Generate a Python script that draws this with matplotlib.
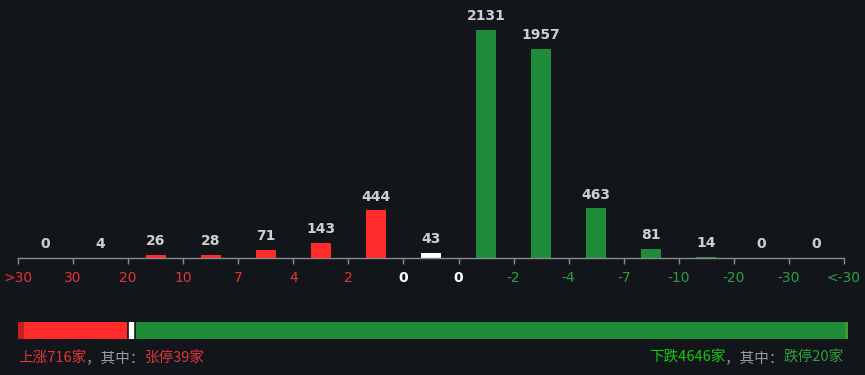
import matplotlib
matplotlib.use("Agg")
import matplotlib.pyplot as plt

plt.rcParams['font.family'] = ['Noto Sans CJK SC', 'DejaVu Sans']

# ---------------- data ----------------
tick_labels = [">30", "30", "20", "10", "7", "4", "2", "0", "0", "-2", "-4", "-7", "-10", "-20", "-30", "<-30"]
values = [0, 4, 26, 28, 71, 143, 444, 43, 2131, 1957, 463, 81, 14, 0, 0]
kinds = ["up"] * 7 + ["flat"] + ["down"] * 7
up_total = 716
flat_total = 43
down_total = 4646
limit_up = 39
limit_down = 20

BG = "#12161b"
RED = "#ff2a2a"
GREEN = "#1e8c38"
WHITE = "#ffffff"
RED_TXT = "#e03535"
GREEN_TXT = "#2f9e3f"
GRAY = "#9a9a9a"

W, H = 865, 375
fig = plt.figure(figsize=(W / 100, H / 100), dpi=100, facecolor=BG)

def frac(x0, y0, x1, y1):
    return [x0 / W, 1 - y1 / H, (x1 - x0) / W, (y1 - y0) / H]

# ---------------- bar chart ----------------
ax = fig.add_axes(frac(18, 0, 844, 258))
ax.set_facecolor(BG)
color_map = {"up": RED, "flat": WHITE, "down": GREEN}
xs = [i + 0.5 for i in range(len(values))]
ax.bar(xs, values, width=0.36, color=[color_map[k] for k in kinds], zorder=2)
ax.set_xlim(0, len(values))
ax.set_ylim(0, 2131 * 258 / 228)
for x, v in zip(xs, values):
    ax.annotate(str(v), (x, v), xytext=(0, 5), textcoords="offset points",
                ha="center", va="bottom", color="#cfcfcf", fontsize=10,
                fontweight="bold", family="DejaVu Sans")
for s in ["top", "left", "right"]:
    ax.spines[s].set_visible(False)
ax.spines["bottom"].set_color("#8a8a8a")
ax.spines["bottom"].set_linewidth(1)
ax.set_yticks([])
ax.set_xticks(range(len(tick_labels)))
ax.set_xticklabels(tick_labels, fontsize=10, family="DejaVu Sans")
ax.tick_params(axis="x", colors="#8a8a8a", length=4, width=1, pad=5)
label_colors = [RED_TXT] * 7 + [WHITE, WHITE] + [GREEN_TXT] * 7
for lab, c in zip(ax.get_xticklabels(), label_colors):
    lab.set_color(c)
    if c == WHITE:
        lab.set_fontweight("bold")

# ---------------- ratio bar ----------------
bx = fig.add_axes(frac(18, 322, 848, 339))
bx.set_facecolor(BG)
total = up_total + flat_total + down_total
segs = [
    (limit_up, "#c41f1a"),
    (up_total - limit_up, RED),
    (flat_total, WHITE),
    (down_total - limit_down, GREEN),
    (limit_down, "#3f9a2c"),
]
left = 0
for w, c in segs:
    bx.barh(0, w, left=left, height=1, color=c, edgecolor="none", zorder=2)
    left += w
for xv in [up_total, up_total + flat_total]:
    bx.axvline(xv, color=BG, lw=1.2, zorder=3)
bx.set_xlim(0, total)
bx.set_ylim(-0.5, 0.5)
bx.axis("off")

# ---------------- footer texts ----------------
fig.canvas.draw()
renderer = fig.canvas.get_renderer()

def seq_text(parts, x_px, y_px, align="left"):
    fs = 10.5
    objs = []
    for txt, col in parts:
        t = fig.text(0, 0, txt, color=col, fontsize=fs, va="center", ha="left")
        objs.append(t)
    widths = [o.get_window_extent(renderer).width for o in objs]
    x = x_px - sum(widths) if align == "right" else x_px
    for o, w in zip(objs, widths):
        o.set_position((x / W, 1 - y_px / H))
        x += w

seq_text([("上涨716家", RED_TXT), ("，其中：", GRAY), ("张停39家", RED_TXT)], 18, 358)
seq_text([("下跌4646家", "#12c812"), ("，其中：", GRAY), ("跌停20家", GREEN_TXT)], 844, 358, align="right")

fig.savefig("out.png", dpi=100, facecolor=BG)
